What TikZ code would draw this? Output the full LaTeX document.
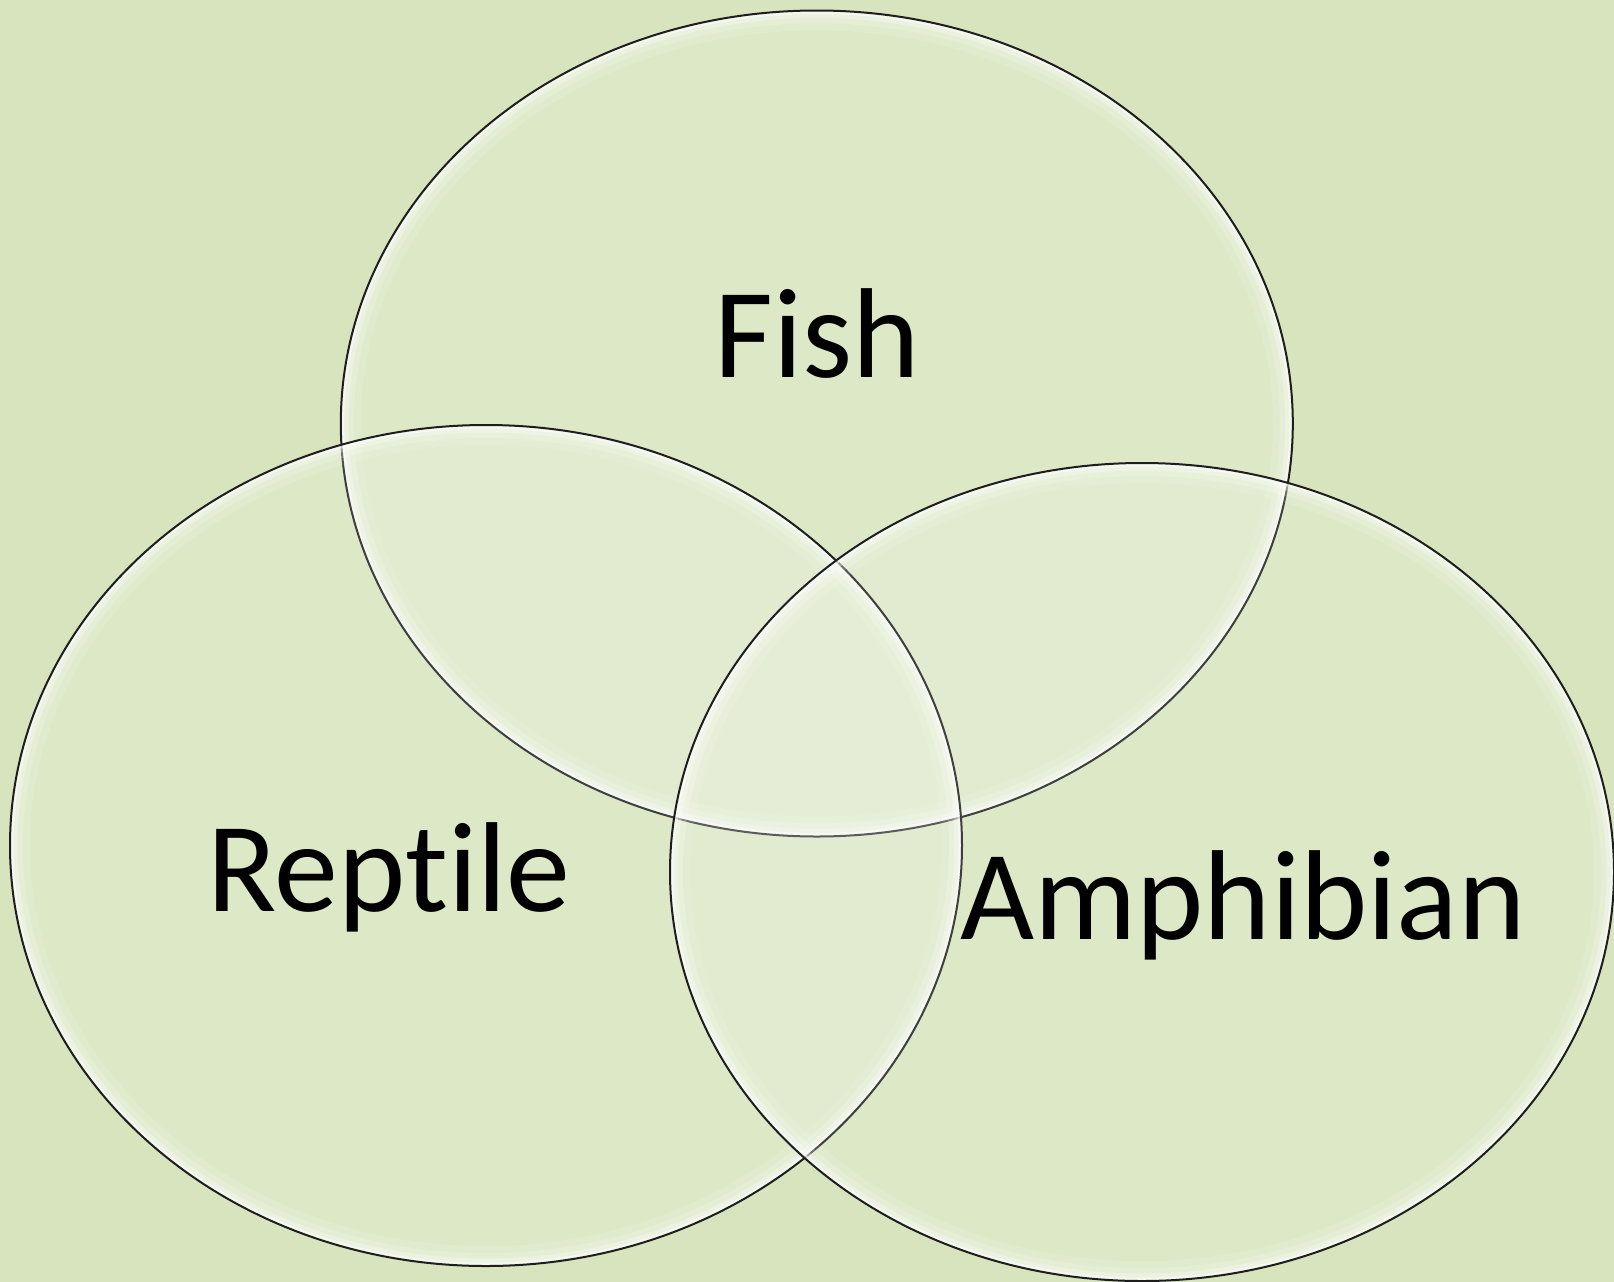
\documentclass[tikz,border=0pt]{standalone}
\usepackage{fontspec}
\setmainfont[Ligatures=NoCommon]{Carlito}
\definecolor{bg}{RGB}{216,228,190}
\definecolor{edge}{RGB}{30,30,30}
\tikzset{
  lbl/.style={anchor=base, inner sep=0pt, font=\fontsize{128}{128}\selectfont, text=black},
}
\newcommand{\vennset}[3]{%
  \fill[white, fill opacity=0.15] (#1) ellipse [x radius=#2pt, y radius=#3pt];
  \begin{scope}
    \clip (#1) ellipse [x radius=#2pt, y radius=#3pt];
    \draw[white, opacity=0.10, line width=40pt] (#1) ellipse [x radius=#2pt, y radius=#3pt];
    \draw[white, opacity=0.18, line width=26pt] (#1) ellipse [x radius=#2pt, y radius=#3pt];
    \draw[white, opacity=0.30, line width=15pt] (#1) ellipse [x radius=#2pt, y radius=#3pt];
    \draw[white, opacity=0.45, line width=7pt] (#1) ellipse [x radius=#2pt, y radius=#3pt];
  \end{scope}
  \draw[edge, line width=2pt] (#1) ellipse [x radius=#2pt, y radius=#3pt];
}
\begin{document}
\begin{tikzpicture}[x=1pt,y=-1pt]
  \fill[bg] (0,0) rectangle (1614,1282);
  \useasboundingbox (0,0) rectangle (1614,1282);
  \coordinate (cf) at (816.8,423.5);
  \coordinate (cr) at (486,845.5);
  \coordinate (ca) at (1142,872);
  \vennset{cf}{476}{413}
  \vennset{cr}{476}{420.5}
  \vennset{ca}{472}{409}
  \node[lbl] (fish) at (817,377) {Fish};
  \node[lbl] (reptile) at (389,911) {Reptile};
  \node[lbl] (amphibian) at (1243,939) {Amphibian};
\end{tikzpicture}
\end{document}
